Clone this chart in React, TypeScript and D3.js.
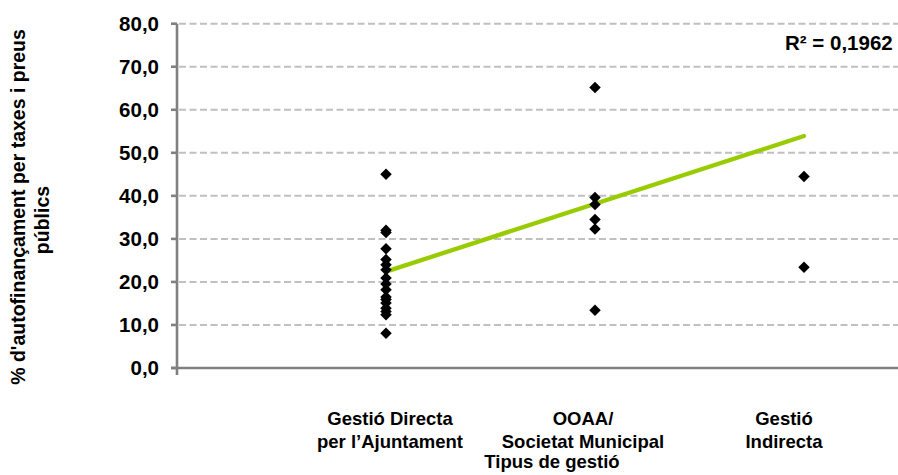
import React from "react";
import * as d3 from "d3";

const categoryLabels: string[][] = [
  ["Gestió Directa", "per l’Ajuntament"],
  ["OOAA/", "Societat Municipal"],
  ["Gestió", "Indirecta"],
];
const categoryX: number[] = [1, 2, 3];

const directaValues: number[] = [45.0, 32.0, 31.5, 27.7, 25.2, 24.0, 22.8, 20.9, 19.5, 18.2, 16.5, 15.9, 15.1, 13.9, 13.1, 12.4, 8.1];
const ooaaValues: number[] = [65.2, 39.6, 38.0, 34.5, 32.3, 13.4];
const indirectaValues: number[] = [44.5, 23.4];

const trendX: number[] = [1, 3];
const trendY: number[] = [22.4, 53.9];
const r2Label = "R² = 0,1962";

const yTicks: number[] = [0, 10, 20, 30, 40, 50, 60, 70, 80];
const yTitle: string[] = ["% d'autofinançament per taxes i preus", "públics"];
const xTitle = "Tipus de gestió";

const W = 898;
const H = 475;

export default function App() {
  const x = d3.scaleLinear().domain([0, 4]).range([177, 1013]);
  const y = d3.scaleLinear().domain([0, 80]).range([368, 23.7]);

  const points: { x: number; y: number }[] = [
    ...directaValues.map((v) => ({ x: categoryX[0], y: v })),
    ...ooaaValues.map((v) => ({ x: categoryX[1], y: v })),
    ...indirectaValues.map((v) => ({ x: categoryX[2], y: v })),
  ];

  const diamond = d3.symbol().type(d3.symbolSquare).size(66)();
  const line = d3
    .line<number>()
    .x((_, i) => x(trendX[i]))
    .y((d) => y(d));

  const font = "'Liberation Sans', Arial, sans-serif";
  const labelCenters = [390, 583, 784];

  return (
    <svg
      width={W}
      height={H}
      style={{ position: "absolute", left: 0, top: 0, background: "#fff" }}
      fontFamily={font}
      fontWeight="bold"
    >
      {yTicks
        .filter((t) => t > 0)
        .map((t) => (
          <line
            key={"g" + t}
            x1={x(0) + 2}
            x2={W}
            y1={y(t)}
            y2={y(t)}
            stroke="#c0c0c0"
            strokeWidth={2}
            strokeDasharray="7,3.5"
          />
        ))}
      <line x1={x(0)} x2={x(0)} y1={y(80)} y2={y(0) + 7} stroke="#808080" strokeWidth={2.6} />
      <line x1={x(0) - 6} x2={W} y1={y(0)} y2={y(0)} stroke="#808080" strokeWidth={2.6} />
      {yTicks.map((t) => (
        <line key={"t" + t} x1={x(0) - 6} x2={x(0)} y1={y(t)} y2={y(t)} stroke="#808080" strokeWidth={2.6} />
      ))}
      {yTicks.map((t) => (
        <text
          key={"l" + t}
          x={159}
          y={y(t)}
          dy="0.36em"
          textAnchor="end"
          fontSize={20.5}
          fill="#000"
        >
          {d3.format(".1f")(t).replace(".", ",")}
        </text>
      ))}
      <path d={line(trendY) || ""} fill="none" stroke="#99cc00" strokeWidth={4.3} strokeLinecap="round" />
      {points.map((p, i) => (
        <path
          key={"p" + i}
          d={diamond || ""}
          transform={`translate(${x(p.x)},${y(p.y)}) rotate(45)`}
          fill="#000"
        />
      ))}
      <text x={785} y={50} fontSize={20.5} fill="#000">
        {r2Label}
      </text>
      {categoryLabels.map((lines, i) =>
        lines.map((s, j) => (
          <text
            key={"c" + i + j}
            x={labelCenters[i]}
            y={425 + j * 23}
            textAnchor="middle"
            fontSize={18.5}
            fill="#000"
          >
            {s}
          </text>
        ))
      )}
      <text x={552} y={468} textAnchor="middle" fontSize={18.5} fill="#000">
        {xTitle}
      </text>
      <text transform="translate(25,207) rotate(-90)" textAnchor="middle" fontSize={19.5} fill="#000">
        {yTitle[0]}
      </text>
      <text transform="translate(49,220) rotate(-90)" textAnchor="middle" fontSize={19.5} fill="#000">
        {yTitle[1]}
      </text>
    </svg>
  );
}
